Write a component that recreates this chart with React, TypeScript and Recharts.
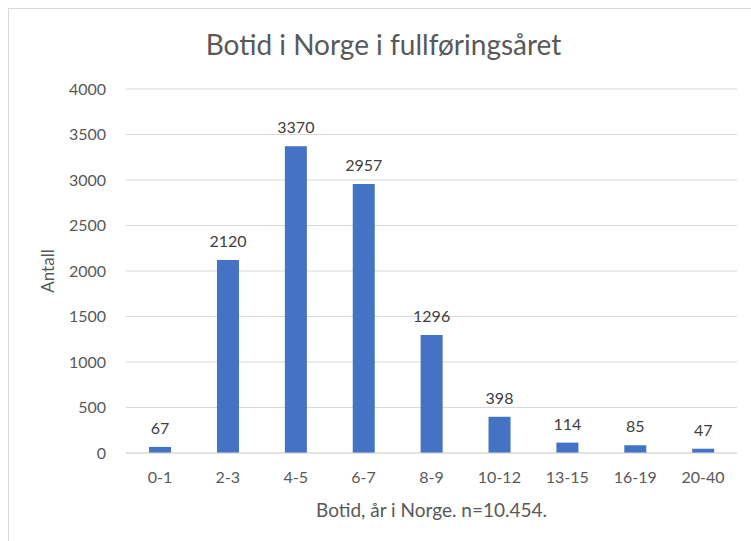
import { BarChart, Bar, XAxis, YAxis, CartesianGrid, LabelList, Label } from 'recharts';

const categories = ['0-1', '2-3', '4-5', '6-7', '8-9', '10-12', '13-15', '16-19', '20-40'];
const antall = [67, 2120, 3370, 2957, 1296, 398, 114, 85, 47];
const yTicks = [0, 500, 1000, 1500, 2000, 2500, 3000, 3500, 4000];

const data = categories.map((c, i) => ({ botid: c, antall: antall[i] }));

const FONT = 'Lato, "Open Sans", sans-serif';

export default function App() {
  return (
    <div style={{ position: 'fixed', left: 0, top: 0, width: 751, height: 541, background: '#fff', overflow: 'hidden', fontFamily: FONT }}>
      {/* chart frame, runs off the right and bottom edge */}
      <div style={{ position: 'absolute', left: 8, top: 8, width: 800, height: 600, border: '1px solid #d9d9d9' }} />
      <div style={{ position: 'absolute', left: 8, top: 26, width: 751, textAlign: 'center', fontSize: 28, lineHeight: '36px', color: '#595959' }}>
        Botid i Norge i fullføringsåret
      </div>
      <div style={{ position: 'absolute', left: 0, top: 0 }}>
        <BarChart width={751} height={541} data={data} margin={{ top: 89, right: 14, bottom: 0, left: 0 }} barCategoryGap="34%">
          <CartesianGrid vertical={false} stroke="#d9d9d9" />
          <XAxis
            dataKey="botid"
            height={88}
            tickLine={false}
            tickSize={0}
            tickMargin={19}
            axisLine={{ stroke: '#d9d9d9' }}
            tick={{ fill: '#595959', fontSize: 16, fontFamily: FONT }}
          >
            <Label
              value="Botid, år i Norge. n=10.454."
              position="insideBottom"
              offset={24}
              style={{ fill: '#595959', fontSize: 19, fontFamily: FONT }}
            />
          </XAxis>
          <YAxis
            width={126}
            domain={[0, 4000]}
            ticks={yTicks}
            tickLine={false}
            tickSize={0}
            tickMargin={20}
            axisLine={false}
            tick={{ fill: '#595959', fontSize: 16, fontFamily: FONT }}
          >
            <Label
              content={({ viewBox }: any) => (
                <text
                  x={viewBox.x + 54}
                  y={viewBox.y + viewBox.height / 2}
                  transform={`rotate(-90, ${viewBox.x + 54}, ${viewBox.y + viewBox.height / 2})`}
                  textAnchor="middle"
                  fill="#595959"
                  fontSize={17}
                  fontFamily={FONT}
                >
                  Antall
                </text>
              )}
            />
          </YAxis>
          <Bar dataKey="antall" fill="#4472c4" isAnimationActive={false}>
            <LabelList dataKey="antall" position="top" offset={13} fill="#404040" fontSize={16} fontFamily={FONT} />
          </Bar>
        </BarChart>
      </div>
    </div>
  );
}
